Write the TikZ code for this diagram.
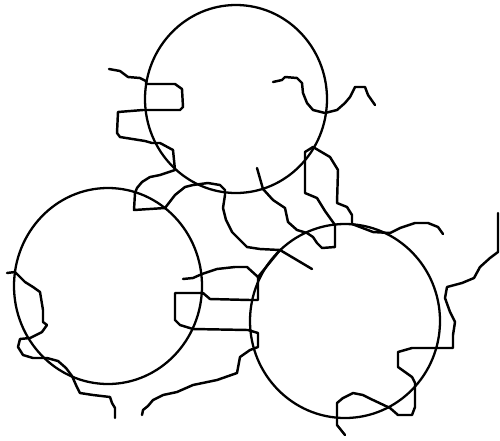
\documentclass[tikz,border=0pt]{standalone}
\begin{document}
\begin{tikzpicture}[x=0.02cm,y=-0.02cm,
  ring/.style={line width=1.3pt},
  crack/.style={line width=1.4pt,line join=round,line cap=round}]
\useasboundingbox (0,0) rectangle (500,440);
% circles
\draw[ring] (236,99) ellipse [x radius=91, y radius=94];
\draw[ring] (108,286) ellipse [x radius=94, y radius=98];
\draw[ring] (345,321) ellipse [x radius=95, y radius=97];
% cracks
\draw[crack] (109,69)--(120,71)--(128,77)--(140,78)--(146,81)--(146,84)--(175,84)--(182,89)--(183,107)--(180,110)--(143,110)--(118,112)--(117,133)--(120,137)--(145,141)--(152,143)--(160,143)--(173,150)--(175,170)--(160,175)--(150,177)--(142,182)--(137,188)--(135,193)--(134,210)--(165,208)--(175,195)--(185,187)--(193,185)--(208,183)--(220,185)--(225,190)--(225,195)--(223,208)--(226,220)--(232,232)--(247,247)--(260,249)--(280,250)--(312,269);
\draw[crack] (280,250)--(258,277)--(258,300)--(250,300)--(210,299)--(203,293)--(175,293)--(175,320)--(180,325)--(193,329)--(248,330)--(258,333)--(258,347)--(250,350)--(240,357)--(237,373)--(217,380)--(193,385)--(177,392)--(163,395)--(153,400)--(148,406)--(143,410)--(142,415);
\draw[crack] (183,279)--(193,278)--(202,274)--(217,269)--(235,267)--(247,267)--(258,277);
\draw[crack] (257,168)--(263,189)--(273,200)--(285,208)--(288,222)--(297,230)--(307,233)--(313,237)--(317,243)--(322,248)--(335,247)--(335,225)--(325,211)--(317,198)--(305,193)--(305,152)--(313,147)--(330,157)--(338,170)--(337,203)--(347,207)--(352,215)--(352,224)--(360,227)--(373,232)--(390,233)--(400,228)--(415,223)--(428,223)--(438,227)--(443,234);
\draw[crack] (273,82)--(282,80)--(285,77)--(297,78)--(302,83)--(303,93)--(307,103)--(313,110)--(325,113)--(337,110)--(345,103)--(350,97)--(355,87)--(365,87)--(368,95)--(375,105);
\draw[crack] (498,213)--(498,252)--(490,258)--(480,267)--(474,278)--(462,283)--(447,287)--(445,298)--(450,312)--(455,322)--(453,335)--(453,348)--(412,348)--(398,352)--(398,367)--(412,377)--(415,383)--(415,407)--(412,415)--(398,415)--(390,408)--(373,400)--(363,395)--(353,393)--(343,398)--(337,403)--(337,425)--(345,435);
\draw[crack] (7,273)--(15,272)--(25,282)--(33,287)--(40,292)--(43,310)--(43,322)--(47,325)--(42,332)--(30,338)--(20,339)--(18,347)--(23,355)--(33,358)--(47,358)--(58,361)--(66,368)--(72,376)--(76,385)--(80,393)--(93,395)--(110,397)--(112,403)--(115,408)--(115,418);
\end{tikzpicture}
\end{document}
